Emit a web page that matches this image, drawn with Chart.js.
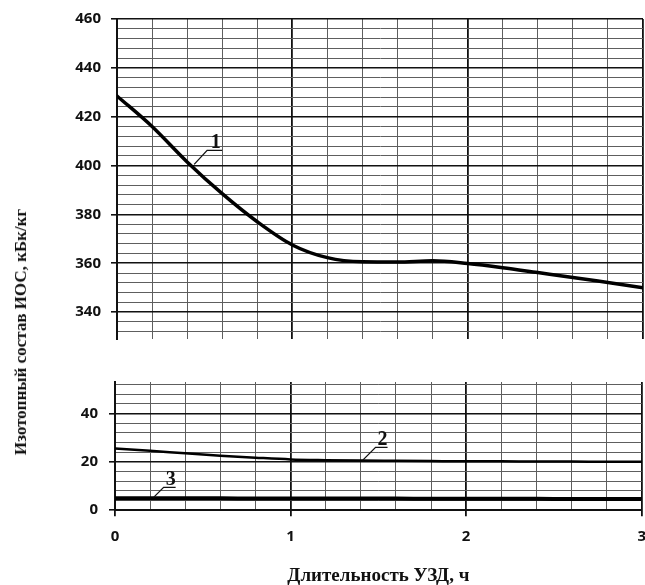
<!DOCTYPE html>
<html>
<head>
<meta charset="utf-8">
<script src="https://cdn.jsdelivr.net/npm/chart.js@4"></script>
<style>
  body { margin: 0; background: #fff; width: 645px; height: 585px; position: relative; overflow: hidden; }
  #top { position: absolute; left: 0; top: 0; width: 645px; height: 358px; }
  #bot { position: absolute; left: 0; top: 362px; width: 658px; height: 225px; }
  #ytitle {
    position: absolute; left: 21px; top: 332px;
    transform: translate(-50%, -50%) rotate(-90deg);
    font: bold 17px "Liberation Serif"; color: #111; white-space: nowrap;
  }
</style>
</head>
<body>
<div id="top"><canvas id="chartTop"></canvas></div>
<div id="bot"><canvas id="chartBot"></canvas></div>
<div id="ytitle">Изотопный состав ИОС, кБк/кг</div>
<script>
// hours of ultrasonic treatment
const xHours = [0, 0.2, 0.4, 0.6, 0.8, 1, 1.2, 1.4, 1.6, 1.8, 2, 2.2, 2.4, 2.6, 2.8, 3];
// curve 1 (upper panel), curves 2 and 3 (lower panel), kBq/kg
const ios1 = [428.5, 416, 401.5, 388.5, 377, 367.5, 362.3, 360.6, 360.5, 361, 359.9, 358.2, 356.2, 354.2, 352.1, 350];
const ios2 = [25.5, 24.6, 23.5, 22.5, 21.7, 21, 20.7, 20.5, 20.4, 20.3, 20.2, 20.2, 20.1, 20.1, 20, 20];
const ios3 = [4.9, 4.9, 4.9, 4.9, 4.8, 4.8, 4.8, 4.8, 4.8, 4.7, 4.7, 4.7, 4.7, 4.6, 4.6, 4.6];

// tick labels
const xLabels = [0, 1, 2, 3];
const yLabelsTop = [340, 360, 380, 400, 420, 440, 460];
const yLabelsBot = [0, 20, 40];

// minor grid every 0.2 h and every 4 kBq/kg
const xGrid = xHours;
const yGridTop = [];
for (let v = 332; v <= 460; v += 4) yGridTop.push(v);
const yGridBot = [];
for (let v = 0; v <= 52; v += 4) yGridBot.push(v);

const MAJOR = '#111';
const MINOR = '#5e5e5e';
const tickFont = { family: 'Open Sans', weight: 'bold', size: 15 };

function pts(ys) {
  return xHours.map((x, i) => ({ x: x, y: ys[i] }));
}

// numbered leaders drawn next to the curves
const calloutPlugin = {
  id: 'callouts',
  afterDatasetsDraw(chart, args, opts) {
    const ctx = chart.ctx;
    const sx = chart.scales.x, sy = chart.scales.y;
    ctx.save();
    ctx.strokeStyle = '#111';
    ctx.fillStyle = '#111';
    ctx.lineWidth = 1.3;
    ctx.font = 'bold 20px "Liberation Serif"';
    ctx.textAlign = 'center';
    ctx.textBaseline = 'alphabetic';
    (opts.items || []).forEach(c => {
      const px = sx.getPixelForValue(c.x), py = sy.getPixelForValue(c.y);
      const ex = px + c.dx, ey = py + c.dy;
      ctx.beginPath();
      ctx.moveTo(px, py);
      ctx.lineTo(ex, ey);
      ctx.lineTo(ex + c.w, ey);
      ctx.stroke();
      ctx.fillText(c.label, ex + c.w / 2 + 1, ey - 2);
    });
    ctx.restore();
  }
};

function xScale(showLabels) {
  return {
    type: 'linear', min: 0, max: 3,
    afterBuildTicks: s => { s.ticks = xGrid.map(v => ({ value: v })); },
    afterFit: showLabels ? undefined : s => { s.height = 0; },
    ticks: {
      display: showLabels, autoSkip: false, maxRotation: 0, padding: 12,
      color: '#111', font: tickFont,
      callback: v => xLabels.includes(v) ? v : ''
    },
    grid: {
      color: c => xLabels.includes(c.tick && c.tick.value) ? MAJOR : MINOR,
      lineWidth: c => xLabels.includes(c.tick && c.tick.value) ? 1.8 : 1,
      drawTicks: showLabels, tickLength: 6,
      tickColor: c => xLabels.includes(c.tick && c.tick.value) ? MAJOR : 'rgba(0,0,0,0)'
    },
    border: { display: showLabels, color: '#111', width: 2 },
    title: {
      display: showLabels, text: 'Длительность УЗД, ч', color: '#111',
      font: { family: 'Liberation Serif', weight: 'bold', size: 19 },
      padding: { top: 6, bottom: 0 }
    }
  };
}

function yScale(min, max, grid, labels, width, pad) {
  return {
    type: 'linear', min: min, max: max,
    afterBuildTicks: s => { s.ticks = grid.map(v => ({ value: v })); },
    afterFit: s => { s.width = width; },
    ticks: {
      autoSkip: false, padding: pad, color: '#111', font: tickFont,
      callback: v => labels.includes(v) ? v : ''
    },
    grid: {
      color: c => labels.includes(c.tick && c.tick.value) ? MAJOR : MINOR,
      lineWidth: c => labels.includes(c.tick && c.tick.value) ? 1.6 : 1,
      tickLength: 6,
      tickColor: c => labels.includes(c.tick && c.tick.value) ? MAJOR : 'rgba(0,0,0,0)'
    },
    border: { display: true, color: '#111', width: 2 }
  };
}

const common = {
  responsive: true,
  maintainAspectRatio: false,
  animation: false,
  events: [],
  elements: { point: { radius: 0 }, line: { cubicInterpolationMode: 'monotone', borderCapStyle: 'round' } }
};

new Chart(document.getElementById('chartTop'), {
  type: 'line',
  data: {
    datasets: [{ label: '1', data: pts(ios1), borderColor: '#000', borderWidth: 3.5 }]
  },
  options: Object.assign({}, common, {
    layout: { padding: { top: 18, right: 2, bottom: 7, left: 0 } },
    scales: {
      x: xScale(false),
      y: yScale(329, 460, yGridTop, yLabelsTop, 117, 10)
    },
    plugins: {
      legend: { display: false },
      tooltip: { enabled: false },
      callouts: { items: [{ label: '1', x: 0.44, y: 400.5, dx: 13, dy: -14, w: 15 }] }
    }
  }),
  plugins: [calloutPlugin]
});

new Chart(document.getElementById('chartBot'), {
  type: 'line',
  data: {
    datasets: [
      { label: '2', data: pts(ios2), borderColor: '#000', borderWidth: 2.5 },
      { label: '3', data: pts(ios3), borderColor: '#000', borderWidth: 4 }
    ]
  },
  options: Object.assign({}, common, {
    layout: { padding: { top: 12, right: 3, bottom: 0, left: 0 } },
    scales: {
      x: xScale(true),
      y: yScale(0, 53, yGridBot, yLabelsBot, 115, 11)
    },
    plugins: {
      legend: { display: false },
      tooltip: { enabled: false },
      callouts: {
        items: [
          { label: '2', x: 1.41, y: 20.6, dx: 13, dy: -13, w: 12 },
          { label: '3', x: 0.22, y: 5.3, dx: 10, dy: -10, w: 12 }
        ]
      }
    }
  }),
  plugins: [calloutPlugin]
});
</script>
</body>
</html>
